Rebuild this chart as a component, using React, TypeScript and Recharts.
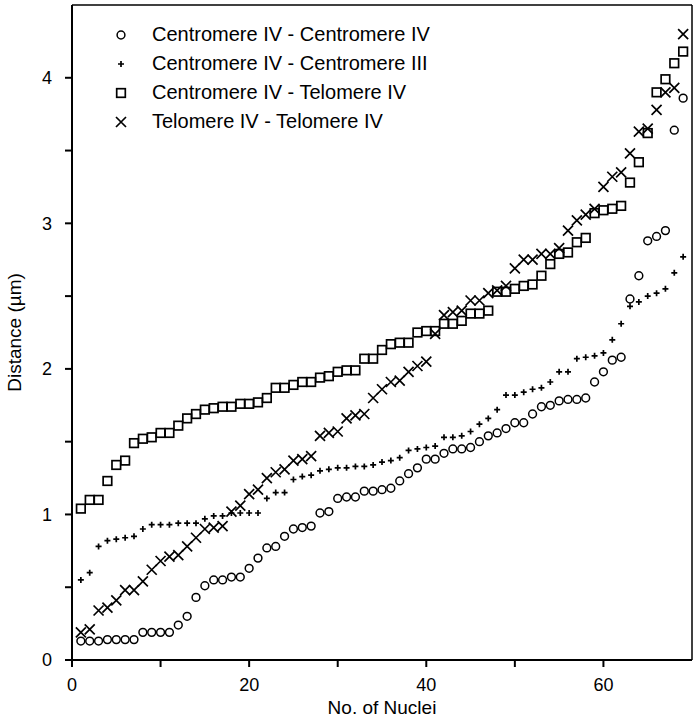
import React from 'react'
import {
  ScatterChart,
  Scatter,
  XAxis,
  YAxis,
  ReferenceLine,
  Legend,
} from 'recharts'

const FONT = '"Liberation Sans", Arial, Helvetica, sans-serif'

const nuclei = [
  1, 2, 3, 4, 5, 6, 7, 8, 9, 10, 11, 12, 13, 14, 15, 16, 17, 18, 19, 20, 21, 22, 23,
  24, 25, 26, 27, 28, 29, 30, 31, 32, 33, 34, 35, 36, 37, 38, 39, 40, 41, 42, 43, 44,
  45, 46, 47, 48, 49, 50, 51, 52, 53, 54, 55, 56, 57, 58, 59, 60, 61, 62, 63, 64, 65,
  66, 67, 68, 69,
]

// Centromere IV - Centromere IV (circles)
const cenIVcenIV = [
  0.13, 0.13, 0.13, 0.14, 0.14, 0.14, 0.14, 0.19, 0.19, 0.19, 0.19, 0.24, 0.3, 0.43,
  0.51, 0.55, 0.55, 0.57, 0.57, 0.63, 0.7, 0.77, 0.78, 0.85, 0.9, 0.91, 0.92, 1.01,
  1.02, 1.11, 1.12, 1.12, 1.16, 1.16, 1.17, 1.18, 1.23, 1.28, 1.32, 1.38, 1.38, 1.42,
  1.45, 1.45, 1.46, 1.5, 1.54, 1.56, 1.59, 1.63, 1.63, 1.69, 1.74, 1.75, 1.78, 1.79,
  1.79, 1.8, 1.91, 1.98, 2.06, 2.08, 2.48, 2.64, 2.88, 2.91, 2.95, 3.64, 3.86,
]

// Centromere IV - Centromere III (plus)
const cenIVcenIII = [
  0.55, 0.6, 0.78, 0.82, 0.83, 0.84, 0.85, 0.9, 0.93, 0.93, 0.93, 0.94, 0.94, 0.94,
  0.97, 0.99, 0.99, 1.01, 1.01, 1.01, 1.01, 1.11, 1.15, 1.15, 1.24, 1.26, 1.27, 1.3,
  1.31, 1.32, 1.32, 1.33, 1.33, 1.34, 1.36, 1.37, 1.39, 1.44, 1.45, 1.46, 1.47, 1.53,
  1.53, 1.54, 1.57, 1.62, 1.66, 1.72, 1.82, 1.82, 1.84, 1.86, 1.87, 1.91, 1.98, 1.98,
  2.07, 2.08, 2.09, 2.11, 2.2, 2.31, 2.43, 2.46, 2.5, 2.52, 2.55, 2.66, 2.77,
]

// Centromere IV - Telomere IV (squares)
const cenIVtelIV = [
  1.04, 1.1, 1.1, 1.23, 1.34, 1.37, 1.49, 1.52, 1.53, 1.56, 1.56, 1.61, 1.66, 1.69,
  1.72, 1.73, 1.74, 1.74, 1.76, 1.76, 1.77, 1.8, 1.87, 1.87, 1.89, 1.91, 1.91, 1.94,
  1.95, 1.98, 1.99, 1.99, 2.07, 2.07, 2.13, 2.17, 2.18, 2.18, 2.25, 2.26, 2.26, 2.31,
  2.31, 2.33, 2.38, 2.38, 2.4, 2.53, 2.53, 2.55, 2.57, 2.58, 2.64, 2.72, 2.79, 2.8,
  2.87, 2.9, 3.07, 3.09, 3.1, 3.12, 3.28, 3.42, 3.62, 3.9, 3.99, 4.1, 4.18,
]

// Telomere IV - Telomere IV (crosses)
const telIVtelIV = [
  0.19, 0.21, 0.34, 0.36, 0.41, 0.48, 0.48, 0.54, 0.62, 0.68, 0.71, 0.72, 0.78, 0.84,
  0.9, 0.91, 0.92, 1.02, 1.06, 1.14, 1.17, 1.25, 1.29, 1.31, 1.37, 1.38, 1.4, 1.54,
  1.56, 1.57, 1.66, 1.68, 1.69, 1.8, 1.86, 1.91, 1.92, 1.98, 2.02, 2.05, 2.24, 2.37,
  2.39, 2.4, 2.47, 2.47, 2.52, 2.54, 2.57, 2.69, 2.75, 2.75, 2.79, 2.79, 2.83, 2.95,
  3.02, 3.06, 3.1, 3.25, 3.32, 3.35, 3.48, 3.63, 3.65, 3.78, 3.9, 3.93, 4.3,
]

const seriesNames = [
  'Centromere IV - Centromere IV',
  'Centromere IV - Centromere III',
  'Centromere IV - Telomere IV',
  'Telomere IV - Telomere IV',
]

const xTicks = [0, 10, 20, 30, 40, 50, 60]
const yTicks = [0, 0.5, 1, 1.5, 2, 2.5, 3, 3.5, 4]

const toPoints = (vals: number[]) => nuclei.map((n, i) => ({ n, d: vals[i] }))

type MarkProps = { cx?: number; cy?: number }

const Ring = ({ cx = 0, cy = 0 }: MarkProps) => (
  <circle cx={cx} cy={cy} r={3.9} fill="none" stroke="#000" strokeWidth={1.5} />
)
const Plus = ({ cx = 0, cy = 0 }: MarkProps) => (
  <path d={`M${cx - 3},${cy}H${cx + 3}M${cx},${cy - 3}V${cy + 3}`} stroke="#000" strokeWidth={1.7} />
)
const Box = ({ cx = 0, cy = 0 }: MarkProps) => (
  <rect x={cx - 4.3} y={cy - 4.3} width={8.6} height={8.6} fill="none" stroke="#000" strokeWidth={1.7} />
)
const Cross = ({ cx = 0, cy = 0 }: MarkProps) => (
  <path
    d={`M${cx - 5},${cy - 5}L${cx + 5},${cy + 5}M${cx - 5},${cy + 5}L${cx + 5},${cy - 5}`}
    stroke="#000"
    strokeWidth={1.7}
  />
)

const marks = [Ring, Plus, Box, Cross]

function LegendBox() {
  return (
    <div style={{ fontFamily: FONT, fontSize: 20, color: '#000' }}>
      {seriesNames.map((name, i) => {
        const Mark = marks[i]
        return (
          <div key={name} style={{ display: 'flex', alignItems: 'center', height: 29 }}>
            <svg width={20} height={20} style={{ marginRight: 21 }}>
              <Mark cx={10} cy={10} />
            </svg>
            <span>{name}</span>
          </div>
        )
      })}
    </div>
  )
}

export default function App() {
  const axisTick = { fill: '#000', fontSize: 18, fontFamily: FONT }
  return (
    <div style={{ position: 'absolute', left: 0, top: 0, background: '#fff' }}>
      <ScatterChart width={698} height={720} margin={{ top: 5, right: 6, bottom: 0, left: 0 }}>
        <XAxis
          type="number"
          dataKey="n"
          domain={[0, 70]}
          ticks={xTicks}
          tickFormatter={(v: number) => (v % 20 === 0 ? String(v) : '')}
          tick={axisTick}
          tickSize={7}
          tickMargin={11}
          height={60}
          stroke="#000"
          strokeWidth={2}
          allowDataOverflow
          label={{
            value: 'No. of Nuclei',
            position: 'insideBottom',
            offset: 6,
            fill: '#000',
            fontSize: 19,
            fontFamily: FONT,
          }}
        />
        <YAxis
          type="number"
          dataKey="d"
          domain={[0, 4.5]}
          ticks={yTicks}
          tickFormatter={(v: number) => (Number.isInteger(v) ? String(v) : '')}
          tick={axisTick}
          tickSize={7}
          tickMargin={13}
          width={72}
          stroke="#000"
          strokeWidth={2}
          allowDataOverflow
          label={{
            value: 'Distance (µm)',
            angle: -90,
            position: 'center',
            dx: -22,
            fill: '#000',
            fontSize: 19,
            fontFamily: FONT,
          }}
        />
        <ReferenceLine y={4.5} stroke="#000" strokeWidth={1.5} />
        <ReferenceLine x={70} stroke="#000" strokeWidth={1.5} />
        <Legend
          layout="vertical"
          align="center"
          verticalAlign="middle"
          wrapperStyle={{ left: 111, top: 20, width: 'auto' }}
          content={() => <LegendBox />}
        />
        <Scatter name={seriesNames[0]} data={toPoints(cenIVcenIV)} shape={Ring} isAnimationActive={false} />
        <Scatter name={seriesNames[1]} data={toPoints(cenIVcenIII)} shape={Plus} isAnimationActive={false} />
        <Scatter name={seriesNames[2]} data={toPoints(cenIVtelIV)} shape={Box} isAnimationActive={false} />
        <Scatter name={seriesNames[3]} data={toPoints(telIVtelIV)} shape={Cross} isAnimationActive={false} />
      </ScatterChart>
    </div>
  )
}
